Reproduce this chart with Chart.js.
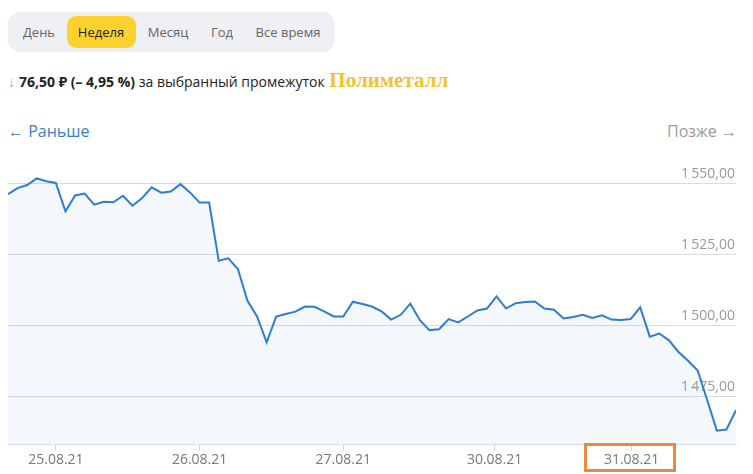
<!DOCTYPE html>
<html lang="ru">
<head>
<meta charset="utf-8">
<title>Полиметалл — неделя</title>
<script src="https://cdn.jsdelivr.net/npm/chart.js@4/dist/chart.umd.min.js"></script>
<style>
    body { margin: 0; width: 753px; height: 474px; overflow: hidden; background: #fff;
           font-family: "Open Sans", "Noto Sans", sans-serif; position: relative; }
    .tabs { position: absolute; left: 8px; top: 12px; width: 327px; height: 40px;
            background: #eef0f3; border-radius: 12px; }
    .tab { position: absolute; top: 0; height: 40px; line-height: 40px; font-size: 13px;
           color: #666; transform: translateX(-50%); white-space: nowrap; }
    .tab.active { color: #222; }
    .tab-bg { position: absolute; left: 59px; top: 4px; width: 69px; height: 32px;
              background: #fdd22f; border-radius: 9px; }
    .change { position: absolute; left: 8px; top: 68px; font-size: 14px; color: #222; white-space: nowrap; }
    .change .arrow { color: #ea8c7e; margin-right: 4px; }
    .change b { font-weight: 700; }
    .change .name { font-family: "Liberation Serif", "DejaVu Serif", serif; font-weight: 700;
                    font-size: 21px; color: #f2c230; margin-left: 1px; }
    .nav { position: absolute; top: 120px; font-size: 16px; white-space: nowrap; }
    .nav.prev { left: 8px; color: #3b7fc6; }
    .nav.next { right: 16px; color: #9a9a9a; }
    #chart-wrap { position: absolute; left: 0; top: 150px; width: 753px; height: 324px; }
    .mark { position: absolute; left: 584px; top: 443px; width: 86px; height: 23px;
            border: 3px solid #ea8a3d; pointer-events: none; }
</style>
</head>
<body>
<div class="tabs">
    <div class="tab-bg"></div>
    <div class="tab" style="left:31px">День</div>
    <div class="tab active" style="left:93px">Неделя</div>
    <div class="tab" style="left:160px">Месяц</div>
    <div class="tab" style="left:214px">Год</div>
    <div class="tab" style="left:280px">Все время</div>
</div>
<div class="change"><span class="arrow">↓</span><b>76,50 ₽ (– 4,95 %)</b> за выбранный промежуток <span class="name">Полиметалл</span></div>
<div class="nav prev">← Раньше</div>
<div class="nav next">Позже →</div>
<div id="chart-wrap"><canvas id="price-chart" width="753" height="324"></canvas></div>
<div class="mark"></div>

<script>
// Polymetal, week view — hourly closes
const prices = [
    1546.1, 1548.2, 1549.3, 1551.6, 1550.6, 1550.0, 1540.0, 1545.6, 1546.3, 1542.4,
    1543.4, 1543.2, 1545.5, 1542.0, 1544.7, 1548.5, 1546.6, 1547.0, 1549.6, 1546.7,
    1543.1, 1543.1, 1522.6, 1523.5, 1519.7, 1508.5, 1503.0, 1493.9, 1503.0, 1503.9,
    1504.7, 1506.5, 1506.4, 1504.8, 1503.0, 1503.0, 1508.2, 1507.4, 1506.5, 1504.8,
    1501.9, 1503.6, 1507.5, 1501.7, 1498.2, 1498.5, 1502.1, 1500.9, 1503.0, 1505.1,
    1505.8, 1510.1, 1505.8, 1507.7, 1508.1, 1508.3, 1505.8, 1505.4, 1502.3, 1502.8,
    1503.6, 1502.5, 1503.4, 1501.9, 1501.8, 1502.1, 1506.2, 1495.9, 1497.0, 1494.6,
    1490.5, 1487.4, 1484.0, 1473.5, 1462.8, 1463.2, 1470.0
];

// date ticks (position in points along the series)
const dateTickPos = [5, 20, 35, 50.8, 65.1];
const dateLabels = ['25.08.21', '26.08.21', '27.08.21', '30.08.21', '31.08.21'];

const priceTicks = [1475, 1500, 1525, 1550];
const priceLabels = ['1\u2009475,00', '1\u2009500,00', '1\u2009525,00', '1\u2009550,00'];

const Y_MIN = 1458.1;
const Y_MAX = 1558.1;

function renderChart() {
    const canvas = document.getElementById('price-chart');
    const points = prices.map((p, i) => ({ x: i, y: p }));

    new Chart(canvas, {
        type: 'line',
        data: {
            datasets: [{
                data: points,
                borderColor: '#2f7cd0',
                borderWidth: 2,
                backgroundColor: 'rgba(46, 125, 209, 0.055)',
                fill: 'start',
                tension: 0,
                pointRadius: 0,
            }]
        },
        options: {
            responsive: false,
            animation: false,
            layout: { padding: { left: 8, right: 17, top: 10, bottom: 0 } },
            plugins: { legend: { display: false }, tooltip: { enabled: false } },
            scales: {
                x: {
                    type: 'linear',
                    min: 0,
                    max: prices.length - 1,
                    afterBuildTicks: axis => { axis.ticks = dateTickPos.map(v => ({ value: v })); },
                    afterFit: axis => { axis.height = 30; },
                    ticks: {
                        autoSkip: false, maxRotation: 0, padding: 1,
                        color: '#777',
                        font: { family: '"Open Sans", sans-serif', size: 14 },
                        callback: (v, i) => dateLabels[i]
                    },
                    grid: { drawOnChartArea: false, drawTicks: true, tickLength: 7, color: '#d3d7dd' },
                    border: { display: true, color: '#d8dce2', width: 1 }
                },
                y: {
                    position: 'right',
                    min: Y_MIN,
                    max: Y_MAX,
                    afterBuildTicks: axis => { axis.ticks = priceTicks.map(v => ({ value: v })); },
                    ticks: {
                        mirror: true, padding: -1, labelOffset: -9,
                        color: '#9a9a9a',
                        font: { family: '"Open Sans", sans-serif', size: 14 },
                        callback: (v, i) => priceLabels[i]
                    },
                    grid: { drawTicks: false, color: '#d8dce2' },
                    border: { display: false }
                }
            }
        }
    });
}

renderChart();
</script>
</body>
</html>
